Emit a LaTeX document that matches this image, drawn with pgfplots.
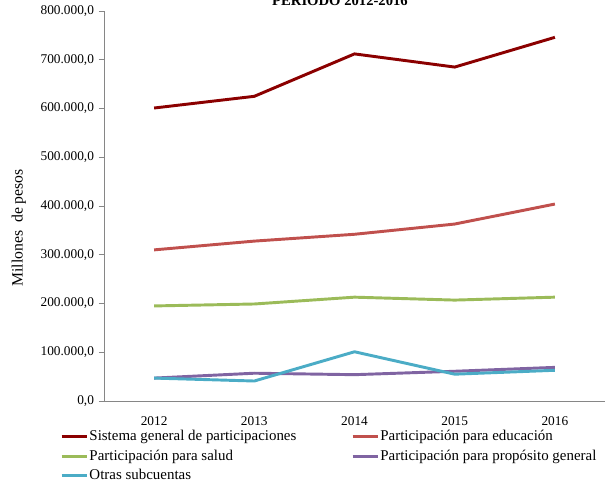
\documentclass[border=0pt]{standalone}
\usepackage{fontspec}
\setmainfont{Liberation Serif}
\usepackage{pgfplots}
\pgfplotsset{compat=1.18}
\definecolor{sgp}{HTML}{8B0000}
\definecolor{edu}{HTML}{C0504D}
\definecolor{sal}{HTML}{9BBB59}
\definecolor{pro}{HTML}{8064A2}
\definecolor{otr}{HTML}{4BACC6}
\definecolor{axgray}{HTML}{868686}
\begin{document}
\begin{tikzpicture}[x=0.75pt,y=0.75pt]
\begin{axis}[
  at={(0,0)}, anchor=south west,
  scale only axis, width=375.75pt, height=292.5pt,
  xmin=-0.5, xmax=4.5, ymin=0, ymax=800000,
  axis x line*=bottom, axis y line*=left,
  axis line style={axgray, line width=0.6pt},
  xtick={0,1,2,3,4}, xticklabels={2012,2013,2014,2015,2016},
  x tick label style={yshift=-4pt},
  major x tick style={draw=none},
  extra x ticks={-0.5,0.5,1.5,2.5,3.5,4.5},
  extra x tick labels={},
  extra x tick style={major tick length=4pt, tick align=outside, tick style={axgray, line width=0.6pt}},
  ytick={0,100000,...,800000},
  tick align=outside, major tick length=4pt,
  y tick style={axgray, line width=0.6pt},
  scaled y ticks=false,
  yticklabel style={/pgf/number format/.cd, fixed, fixed zerofill, precision=1, 1000 sep={.}, use comma, assume math mode=true},
  tick label style={font=\fontsize{10}{12}\selectfont},
  ylabel={Millones\ \ de pesos},
  every axis y label/.style={at={(axis description cs:-0.17,0.444)}, rotate=90, anchor=center, font=\fontsize{11.8}{13}\selectfont},
  legend columns=2,
  legend cell align=left,
  legend style={at={(axis description cs:-0.088,-0.07)}, anchor=north west, draw=none, fill=none,
    font=\fontsize{11.2}{13}\selectfont, inner sep=0pt, row sep=2.2pt,
    /tikz/column 2/.style={column sep=40pt},
    nodes={inner xsep=1pt, inner ysep=1.5pt}},
  legend image code/.code={\draw[#1] (0cm,0cm) -- (0.66cm,0cm);},
  clip=false,
]
\addplot[sgp, line width=2.2pt] coordinates {(0,601000) (1,625000) (2,712000) (3,685000) (4,746000)};
\addlegendentry{Sistema general de participaciones}
\addplot[edu, line width=2.2pt] coordinates {(0,310000) (1,328000) (2,342000) (3,363000) (4,404000)};
\addlegendentry{Participación para educación}
\addplot[sal, line width=2.2pt] coordinates {(0,195000) (1,199000) (2,213000) (3,207000) (4,213000)};
\addlegendentry{Participación para salud}
\addplot[pro, line width=2.2pt] coordinates {(0,47000) (1,57000) (2,54000) (3,61000) (4,69000)};
\addlegendentry{Participación para propósito general}
\addplot[otr, line width=2.2pt] coordinates {(0,47000) (1,41000) (2,101000) (3,55000) (4,63000)};
\addlegendentry{Otras subcuentas}
\end{axis}
\node[font=\bfseries\fontsize{11}{13}\selectfont, anchor=base] at (236,395) {PERIODO 2012-2016};
\pgfresetboundingbox
\path[use as bounding box] (-104,-84) rectangle (501,401);
\end{tikzpicture}
\end{document}
